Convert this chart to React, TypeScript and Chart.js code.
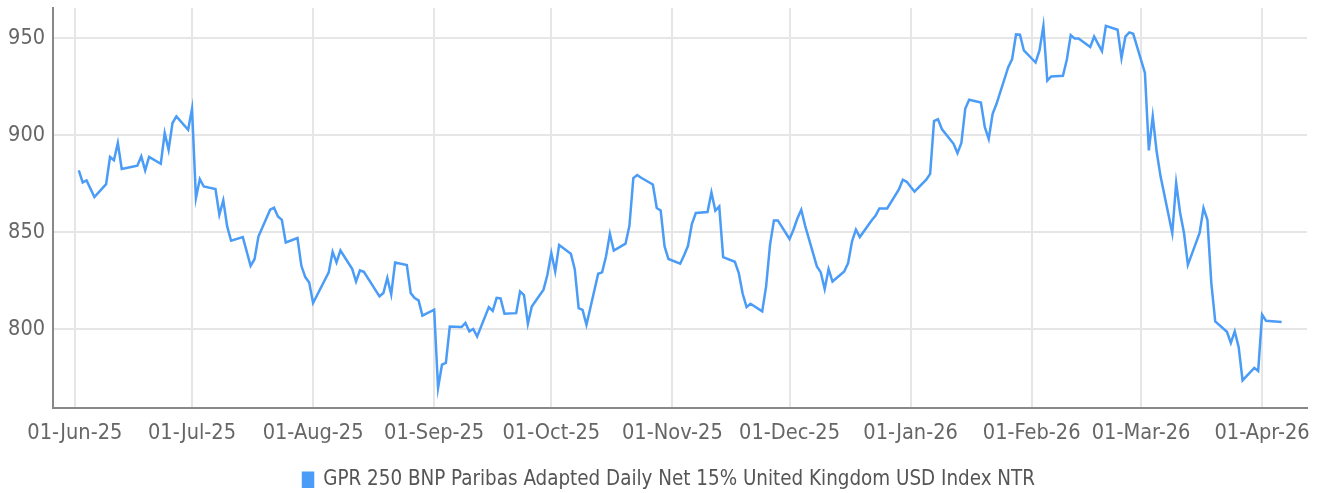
import React, { useEffect, useRef } from 'react';
import { Chart, registerables } from 'chart.js';

Chart.register(...registerables);

const seriesLabel = 'GPR 250 BNP Paribas Adapted Daily Net 15% United Kingdom USD Index NTR';

const dates = [
  '2025-06-02', '2025-06-03', '2025-06-04', '2025-06-06', '2025-06-09', '2025-06-10', '2025-06-11', '2025-06-12', '2025-06-13',
  '2025-06-16', '2025-06-17', '2025-06-18', '2025-06-19', '2025-06-20', '2025-06-23', '2025-06-24', '2025-06-25', '2025-06-26',
  '2025-06-27', '2025-06-30', '2025-07-01', '2025-07-02', '2025-07-03', '2025-07-04', '2025-07-07', '2025-07-08', '2025-07-09',
  '2025-07-10', '2025-07-11', '2025-07-14', '2025-07-16', '2025-07-17', '2025-07-18', '2025-07-21', '2025-07-22', '2025-07-23',
  '2025-07-24', '2025-07-25', '2025-07-28', '2025-07-29', '2025-07-30', '2025-07-31', '2025-08-01', '2025-08-05', '2025-08-06',
  '2025-08-07', '2025-08-08', '2025-08-11', '2025-08-12', '2025-08-13', '2025-08-14', '2025-08-18', '2025-08-19', '2025-08-20',
  '2025-08-21', '2025-08-22', '2025-08-25', '2025-08-26', '2025-08-27', '2025-08-28', '2025-08-29', '2025-09-01', '2025-09-02',
  '2025-09-03', '2025-09-04', '2025-09-05', '2025-09-08', '2025-09-09', '2025-09-10', '2025-09-11', '2025-09-12', '2025-09-15',
  '2025-09-16', '2025-09-17', '2025-09-18', '2025-09-19', '2025-09-22', '2025-09-23', '2025-09-24', '2025-09-25', '2025-09-26',
  '2025-09-29', '2025-09-30', '2025-10-01', '2025-10-02', '2025-10-03', '2025-10-06', '2025-10-07', '2025-10-08', '2025-10-09',
  '2025-10-10', '2025-10-13', '2025-10-14', '2025-10-15', '2025-10-16', '2025-10-17', '2025-10-20', '2025-10-21', '2025-10-22',
  '2025-10-23', '2025-10-24', '2025-10-27', '2025-10-28', '2025-10-29', '2025-10-30', '2025-10-31', '2025-11-03', '2025-11-04',
  '2025-11-05', '2025-11-06', '2025-11-07', '2025-11-10', '2025-11-11', '2025-11-12', '2025-11-13', '2025-11-14', '2025-11-17',
  '2025-11-18', '2025-11-19', '2025-11-20', '2025-11-21', '2025-11-24', '2025-11-25', '2025-11-26', '2025-11-27', '2025-11-28',
  '2025-12-01', '2025-12-02', '2025-12-03', '2025-12-04', '2025-12-05', '2025-12-08', '2025-12-09', '2025-12-10', '2025-12-11',
  '2025-12-12', '2025-12-15', '2025-12-16', '2025-12-17', '2025-12-18', '2025-12-19', '2025-12-22', '2025-12-23', '2025-12-24',
  '2025-12-26', '2025-12-29', '2025-12-30', '2025-12-31', '2026-01-02', '2026-01-05', '2026-01-06', '2026-01-07', '2026-01-08',
  '2026-01-09', '2026-01-12', '2026-01-13', '2026-01-14', '2026-01-15', '2026-01-16', '2026-01-19', '2026-01-20', '2026-01-21',
  '2026-01-22', '2026-01-23', '2026-01-26', '2026-01-27', '2026-01-28', '2026-01-29', '2026-01-30', '2026-02-02', '2026-02-03',
  '2026-02-04', '2026-02-05', '2026-02-06', '2026-02-09', '2026-02-10', '2026-02-11', '2026-02-12', '2026-02-13', '2026-02-16',
  '2026-02-17', '2026-02-18', '2026-02-19', '2026-02-20', '2026-02-23', '2026-02-24', '2026-02-25', '2026-02-26', '2026-02-27',
  '2026-03-02', '2026-03-03', '2026-03-04', '2026-03-05', '2026-03-06', '2026-03-09', '2026-03-10', '2026-03-11', '2026-03-12',
  '2026-03-13', '2026-03-16', '2026-03-17', '2026-03-18', '2026-03-19', '2026-03-20', '2026-03-23', '2026-03-24', '2026-03-25',
  '2026-03-26', '2026-03-27', '2026-03-30', '2026-03-31', '2026-04-01', '2026-04-02', '2026-04-06',
];

const values = [
  881.8, 875.6, 876.6, 868.0, 874.7, 888.7, 887.0, 895.9, 882.5,
  883.8, 884.2, 889.0, 881.8, 888.7, 885.2, 901.0, 892.4, 906.2,
  909.6, 902.7, 913.6, 867.5, 877.3, 873.5, 872.2, 858.9, 866.3,
  852.9, 845.5, 847.4, 832.6, 836.0, 847.7, 861.5, 862.5, 858.0,
  856.3, 844.6, 846.9, 832.6, 826.8, 824.0, 813.4, 829.2, 839.8,
  834.3, 840.5, 831.0, 824.5, 830.2, 829.5, 816.8, 818.6, 826.3,
  817.8, 834.3, 833.0, 818.5, 816.0, 814.8, 806.9, 810.0, 769.6,
  781.6, 782.5, 801.3, 801.0, 803.1, 798.8, 800.0, 796.2, 811.3,
  809.3, 816.1, 815.8, 807.9, 808.2, 819.4, 817.5, 802.7, 811.6,
  820.3, 828.0, 839.2, 829.7, 843.3, 838.8, 830.9, 810.8, 809.9,
  802.2, 828.5, 829.2, 837.4, 849.1, 840.5, 844.0, 853.2, 877.8,
  879.4, 878.0, 874.5, 862.4, 861.1, 842.6, 836.1, 833.7, 838.0,
  842.9, 854.3, 859.8, 860.3, 870.4, 861.0, 863.2, 837.1, 834.7,
  828.9, 818.2, 811.3, 813.0, 809.1, 822.0, 843.4, 856.0, 856.0,
  846.4, 851.2, 857.0, 861.5, 853.2, 832.3, 829.2, 820.6, 830.9,
  824.5, 829.7, 834.0, 845.2, 851.2, 847.4, 856.0, 858.4, 862.2,
  862.2, 872.0, 877.0, 875.9, 870.8, 877.0, 880.0, 907.2, 908.2,
  903.1, 895.5, 890.7, 895.9, 913.7, 918.2, 916.8, 904.1, 898.0,
  911.0, 916.1, 935.0, 939.2, 951.9, 951.7, 943.6, 937.4, 943.6,
  956.3, 928.1, 930.2, 930.6, 938.8, 951.5, 949.8, 949.8, 945.4,
  950.8, 947.0, 943.3, 956.3, 954.3, 939.7, 950.8, 952.9, 952.2,
  932.0, 892.1, 909.6, 891.5, 878.7, 849.5, 875.3, 860.1, 849.5,
  833.1, 849.5, 862.4, 856.3, 823.7, 803.9, 798.6, 792.8, 798.8,
  790.7, 773.5, 780.0, 778.4, 807.4, 804.3, 803.6,
];

const tickDates = [
  '2025-06-01', '2025-07-01', '2025-08-01', '2025-09-01', '2025-10-01', '2025-11-01',
  '2025-12-01', '2026-01-01', '2026-02-01', '2026-03-01', '2026-04-01',
];
const tickLabels = [
  '01-Jun-25', '01-Jul-25', '01-Aug-25', '01-Sep-25', '01-Oct-25', '01-Nov-25',
  '01-Dec-25', '01-Jan-26', '01-Feb-26', '01-Mar-26', '01-Apr-26',
];
const yTicks = [800, 850, 900, 950];

const ORIGIN = Date.UTC(2025, 5, 1);
const dayOf = (s: string) => {
  const [y, m, d] = s.split('-').map(Number);
  return (Date.UTC(y, m - 1, d) - ORIGIN) / 86400000;
};

const FONT = "'DejaVu Sans Condensed', 'DejaVu Sans', sans-serif";

const legendShift = {
  id: 'legendShift',
  afterLayout(chart: any) {
    const l = chart.legend;
    if (l) {
      l.left += 15.5;
      l.right += 15.5;
    }
  },
};

export default function App() {
  const ref = useRef<HTMLCanvasElement | null>(null);
  useEffect(() => {
    document.body.style.margin = '0';
    const canvas = ref.current;
    if (!canvas) return;
    const points = dates.map((d, i) => ({ x: dayOf(d), y: values[i] }));
    const tickDays = tickDates.map(dayOf);
    const chart = new Chart(canvas, {
      type: 'line',
      data: {
        datasets: [
          {
            label: seriesLabel,
            data: points,
            borderColor: '#4a9cf7',
            backgroundColor: '#4a9cf7',
            borderWidth: 2.5,
            pointRadius: 0,
            tension: 0,
          },
        ],
      },
      plugins: [legendShift],
      options: {
        animation: false,
        responsive: false,
        maintainAspectRatio: false,
        layout: { padding: { left: 0, right: 14, top: 8, bottom: -7 } },
        plugins: {
          tooltip: { enabled: false },
          legend: {
            position: 'bottom',
            labels: {
              boxWidth: 10,
              boxHeight: 14,
              padding: 10,
              color: '#555',
              font: { family: FONT, size: 20.4 },
            },
          },
        },
        scales: {
          x: {
            type: 'linear',
            min: -5.6,
            max: 315.5,
            afterBuildTicks: (scale: any) => {
              scale.ticks = tickDays.map((v) => ({ value: v }));
            },
            afterFit: (scale: any) => {
              scale.height = 52;
              scale.paddingLeft = 0;
              scale.paddingRight = 0;
            },
            ticks: {
              autoSkip: false,
              maxRotation: 0,
              padding: 13,
              color: '#666',
              font: { family: FONT, size: 21.6 },
              callback: (v: any) => {
                const i = tickDays.indexOf(Number(v));
                return i >= 0 ? tickLabels[i] : '';
              },
            },
            grid: { color: '#e6e6e6', lineWidth: 2, drawTicks: false },
            border: { color: '#888', width: 2 },
          },
          y: {
            type: 'linear',
            min: 759.5,
            max: 965.5,
            afterBuildTicks: (scale: any) => {
              scale.ticks = yTicks.map((v) => ({ value: v }));
            },
            afterFit: (scale: any) => {
              scale.width = 53;
              scale.paddingTop = 0;
              scale.paddingBottom = 0;
            },
            ticks: {
              padding: 8,
              color: '#666',
              font: { family: FONT, size: 21.5 },
            },
            grid: { color: '#e6e6e6', lineWidth: 2, drawTicks: false },
            border: { color: '#888', width: 2 },
          },
        },
      },
    });
    return () => chart.destroy();
  }, []);
  return (
    <div style={{ width: 1321, height: 493 }}>
      <canvas ref={ref} width={1321} height={493} style={{ display: 'block' }} />
    </div>
  );
}
